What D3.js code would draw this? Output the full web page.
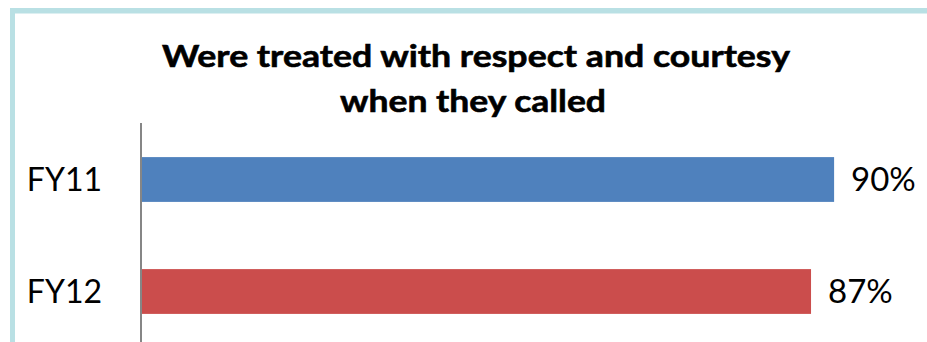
<!DOCTYPE html>
<html>
<head>
<meta charset="utf-8">
<script src="https://cdn.jsdelivr.net/npm/d3@7"></script>
<style>
  html, body { margin: 0; padding: 0; background: #fff; }
  svg { display: block; }
</style>
</head>
<body>
<svg id="chart" width="927" height="342"></svg>
<script>
// Survey result: share of callers treated with respect and courtesy
const titleLines = ["Were treated with respect and courtesy", "when they called"];
const categories = ["FY11", "FY12"];
const values = [90, 87];
const valueLabels = ["90%", "87%"];
const barColors = ["#4F81BD", "#CB4D4C"];

const svg = d3.select("#chart");
const W = 927, H = 342;

// Frame: light teal rule along the top and left edges
svg.append("rect").attr("x", 10).attr("y", 8).attr("width", W - 10).attr("height", 5.5).attr("fill", "#B9E0E4");
svg.append("rect").attr("x", 10).attr("y", 8).attr("width", 5).attr("height", H - 8).attr("fill", "#B9E0E4");

const x = d3.scaleLinear().domain([0, 100]).range([142, 911]);
const y = d3.scaleBand().domain(categories).range([123.5, 347.5]).paddingInner(0.6).paddingOuter(0.3);

// Title, two centred lines stretched to the title block width
const titleLayout = [{ x: 162, y: 67, w: 628 }, { x: 340, y: 112, w: 266 }];
svg.append("g").selectAll("text").data(titleLines).join("text")
  .attr("x", (d, i) => titleLayout[i].x)
  .attr("y", (d, i) => titleLayout[i].y)
  .attr("textLength", (d, i) => titleLayout[i].w)
  .attr("lengthAdjust", "spacingAndGlyphs")
  .attr("font-family", "Lato, 'Open Sans', sans-serif")
  .attr("font-weight", "bold")
  .attr("font-size", 31)
  .attr("stroke", "#000")
  .attr("stroke-width", 0.6)
  .attr("fill", "#000")
  .text(d => d);

// Bars
svg.append("g").selectAll("rect").data(values).join("rect")
  .attr("x", x(0))
  .attr("y", (d, i) => y(categories[i]))
  .attr("width", d => x(d) - x(0))
  .attr("height", y.bandwidth())
  .attr("fill", (d, i) => barColors[i]);

// Value labels
svg.append("g").selectAll("text").data(values).join("text")
  .attr("x", d => x(d) + 17)
  .attr("y", (d, i) => y(categories[i]) + y.bandwidth() / 2)
  .attr("dy", "0.36em")
  .attr("font-family", "Lato, 'Open Sans', sans-serif")
  .attr("font-size", 33)
  .attr("fill", "#000")
  .text((d, i) => valueLabels[i]);

// Category axis
const yAxis = svg.append("g")
  .attr("transform", `translate(${x(0) - 1},0)`)
  .call(d3.axisLeft(y).tickSize(0).tickPadding(39));
yAxis.select(".domain").remove();
yAxis.append("line")
  .attr("x1", 0).attr("x2", 0)
  .attr("y1", 123).attr("y2", H)
  .attr("stroke", "#868686").attr("stroke-width", 2);
yAxis.selectAll(".tick text")
  .attr("font-family", "Lato, 'Open Sans', sans-serif")
  .attr("font-size", 32)
  .attr("fill", "#000")
  .attr("dy", "0.36em");
</script>
</body>
</html>
